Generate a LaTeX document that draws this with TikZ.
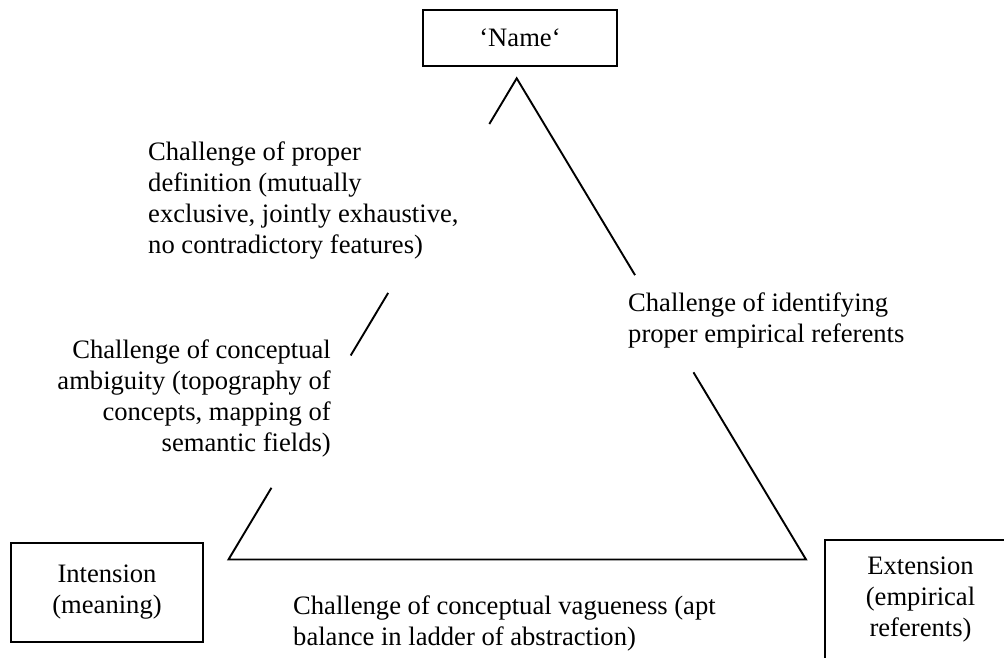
\documentclass[tikz,border=0pt]{standalone}
\usepackage{fontspec}
\setmainfont{Liberation Serif}
\usetikzlibrary{calc}
\begin{document}
\begin{tikzpicture}[x=1pt,y=-1pt,
  box/.style={draw, line width=2pt, inner sep=0pt},
  txt/.style={font=\fontsize{26.6}{31}\selectfont, inner sep=0pt},
  side/.style={line width=1.9pt, line join=miter}]
\useasboundingbox (0,0) rectangle (1004,657);
\clip (0,0) rectangle (1004,657);
% boxes
\node[box, txt, minimum width=194pt, minimum height=56pt] (name) at (520,38) {‘Name‘};
\node[box, txt, align=center, minimum width=192pt, minimum height=99pt] (int) at (107,592.5) {Intension\\(meaning)};
\node[box, minimum width=193pt, minimum height=150pt, anchor=north west] (ext) at (824,539) {};
\node[txt, align=center] (extl) at (920.5,600) {Extension\\(empirical\\referents)};
% triangle
\coordinate (apex) at (516.7,78.3);
\coordinate (lv) at (228.5,559.5);
\coordinate (rv) at (806,559.5);
\draw[side] ($(apex)!0.095!(lv)$) -- (apex) -- ($(apex)!0.409!(rv)$);
\draw[side] ($(apex)!0.446!(lv)$) -- ($(apex)!0.576!(lv)$);
\draw[side] ($(apex)!0.851!(lv)$) -- (lv) -- (rv) -- ($(apex)!0.611!(rv)$);
% labels
\node[txt, anchor=base west] (def) at (148,160) {\begin{tabular}[t]{@{}l@{}}Challenge of proper\\definition (mutually\\exclusive, jointly exhaustive,\\no contradictory features)\end{tabular}};
\node[txt, anchor=base east] (amb) at (331,358) {\begin{tabular}[t]{@{}r@{}}Challenge of conceptual\\ambiguity (topography of\\concepts, mapping of\\semantic fields)\end{tabular}};
\node[txt, anchor=base west] (ref) at (628,311) {\begin{tabular}[t]{@{}l@{}}Challenge of identifying\\proper empirical referents\end{tabular}};
\node[txt, anchor=base west] (vag) at (293,614.5) {\begin{tabular}[t]{@{}l@{}}Challenge of conceptual vagueness (apt\\balance in ladder of abstraction)\end{tabular}};
\end{tikzpicture}
\end{document}
